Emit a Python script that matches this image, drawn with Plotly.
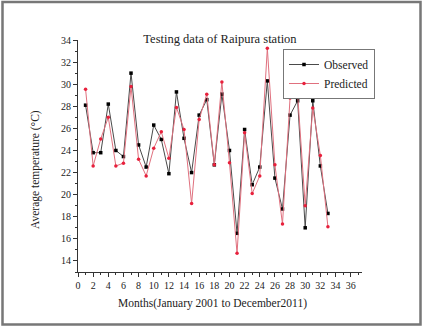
import plotly.graph_objects as go

months = list(range(1, 34))
observed = [28.1, 23.8, 23.8, 28.2, 24.0, 23.45, 31.0, 24.5, 22.5, 26.3,
            25.0, 21.9, 29.3, 25.1, 22.0, 27.2, 28.6, 22.7, 29.1, 24.0,
            16.5, 25.9, 20.9, 22.5, 30.3, 21.5, 18.7, 27.2, 28.5, 17.0,
            28.5, 22.6, 18.3]
predicted = [29.55, 22.6, 25.05, 27.0, 22.6, 22.85, 29.8, 23.2, 21.7, 24.2,
             25.7, 23.3, 27.9, 25.9, 19.2, 26.8, 29.1, 22.7, 30.2, 22.9,
             14.7, 25.6, 20.1, 21.7, 33.25, 22.7, 17.35, 28.75, 29.1, 19.0,
             27.85, 23.55, 17.1]

FONT = "Liberation Serif"

fig = go.Figure()
fig.add_trace(go.Scatter(
    x=months, y=observed, name="Observed", mode="lines+markers",
    line=dict(color="#4a4a4a", width=1),
    marker=dict(symbol="square", size=3.5, color="#000000"),
))
fig.add_trace(go.Scatter(
    x=months, y=predicted, name="Predicted", mode="lines+markers",
    line=dict(color="#e0707e", width=1),
    marker=dict(symbol="circle", size=3.5, color="#e8203c"),
))

L, R, T, B = 78, 62, 40, 56
W, H = 424, 328
pw, ph = W - L - R, H - T - B

def px_x(p):
    return (p - L) / pw

def px_y(p):
    return (H - B - p) / ph

fig.add_shape(type="rect", xref="paper", yref="paper",
              x0=px_x(2.5), x1=px_x(420.5), y0=px_y(324.5), y1=px_y(2),
              line=dict(color="#777777", width=2.5), layer="above")

fig.add_annotation(text="Average temperature (°C)", xref="paper", yref="paper",
                   x=px_x(35), y=px_y(170), xanchor="center", yanchor="middle",
                   textangle=-90, showarrow=False,
                   font=dict(family=FONT, size=11.5, color="#222222"))
fig.add_annotation(text="Months(January 2001 to December2011)", xref="paper", yref="paper",
                   x=px_x(212), y=px_y(303), xanchor="center", yanchor="middle",
                   showarrow=False,
                   font=dict(family=FONT, size=11.5, color="#222222"))

fig.update_layout(
    width=W, height=H,
    margin=dict(l=L, r=R, t=T, b=B),
    paper_bgcolor="white", plot_bgcolor="white",
    font=dict(family=FONT, color="#222222", size=10),
    title=dict(text="Testing data of Raipura station", x=(220) / W, xanchor="center",
               y=1 - 39 / H, yanchor="middle", yref="container",
               font=dict(family=FONT, size=12.5, color="#222222")),
    showlegend=True,
    legend=dict(x=px_x(283), y=px_y(49), xanchor="left", yanchor="top",
                bordercolor="#777777", borderwidth=1, bgcolor="white",
                font=dict(family=FONT, size=11.5, color="#222222"),
                itemwidth=30, tracegroupgap=0),
)

fig.update_xaxes(
    range=[0, 37.5], tickmode="linear", tick0=0, dtick=2,
    ticks="outside", ticklen=4, tickwidth=1, tickcolor="#333333",
    minor=dict(ticks="outside", dtick=1, ticklen=2, tickcolor="#333333"),
    showline=True, linecolor="#333333", linewidth=1,
    showgrid=False, zeroline=False,
    tickfont=dict(family=FONT, size=10, color="#222222"),
)
fig.update_yaxes(
    range=[13, 34], tickmode="linear", tick0=14, dtick=2,
    ticks="outside", ticklen=4, tickwidth=1, tickcolor="#333333",
    minor=dict(ticks="outside", dtick=1, ticklen=2, tickcolor="#333333"),
    showline=True, linecolor="#333333", linewidth=1,
    showgrid=False, zeroline=False,
    tickfont=dict(family=FONT, size=10, color="#222222"),
)

fig.write_html("out.html", config={"displayModeBar": False},
               post_script="document.body.style.margin='0';document.body.style.overflow='hidden';")
